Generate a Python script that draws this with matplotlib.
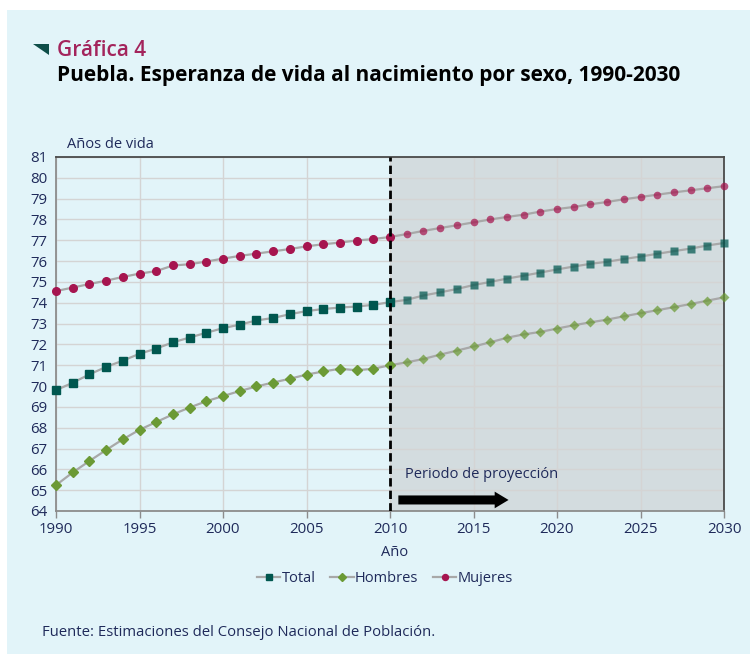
import numpy as np
import matplotlib
matplotlib.use("Agg")
import matplotlib.pyplot as plt
from matplotlib.patches import Rectangle, Polygon

years = list(range(1990, 2031))
total = [69.80, 70.16, 70.56, 70.92, 71.22, 71.55, 71.80, 72.10, 72.33, 72.56,
         72.78, 72.95, 73.15, 73.27, 73.45, 73.60, 73.70, 73.77, 73.82, 73.90,
         74.03, 74.14, 74.35, 74.50, 74.66, 74.85, 75.00, 75.16, 75.30, 75.45,
         75.60, 75.74, 75.87, 75.97, 76.10, 76.22, 76.35, 76.48, 76.60, 76.75, 76.87]
hombres = [65.24, 65.85, 66.40, 66.93, 67.44, 67.90, 68.27, 68.64, 68.97, 69.27,
           69.52, 69.76, 69.98, 70.17, 70.35, 70.55, 70.70, 70.83, 70.76, 70.83,
           71.00, 71.14, 71.30, 71.51, 71.70, 71.90, 72.10, 72.32, 72.48, 72.60,
           72.76, 72.92, 73.06, 73.19, 73.35, 73.50, 73.64, 73.79, 73.94, 74.10, 74.26]
mujeres = [74.56, 74.73, 74.90, 75.06, 75.24, 75.40, 75.52, 75.79, 75.85, 75.98,
           76.12, 76.25, 76.36, 76.47, 76.58, 76.71, 76.81, 76.89, 76.99, 77.06,
           77.16, 77.30, 77.45, 77.59, 77.72, 77.86, 78.00, 78.12, 78.23, 78.38,
           78.50, 78.60, 78.73, 78.84, 78.97, 79.08, 79.19, 79.30, 79.40, 79.50, 79.60]
series_names = ["Total", "Hombres", "Mujeres"]
y_ticks = list(range(64, 82))
x_ticks = list(range(1990, 2031, 5))
proj_start = 2010

plt.rcParams['font.family'] = ['Open Sans', 'DejaVu Sans']

bg = "#E2F4F9"
fig = plt.figure(figsize=(7.5, 6.54), dpi=100, facecolor="white")
# cyan panel
fig.patches.append(Rectangle((7/750, 0), 1 - 7/750, 1 - 10/654, transform=fig.transFigure,
                             facecolor=bg, edgecolor="none", zorder=-5))

L, R, T, B = 56/750, 724/750, 1 - 157/654, 1 - 511/654
ax = fig.add_axes([L, B, R - L, T - B], zorder=2)
ax.set_facecolor(bg)
ax.set_xlim(1990, 2030)
ax.set_ylim(64, 81)

# shaded projection
ax.axvspan(proj_start, 2030, facecolor="#D3DCDF", edgecolor="none", zorder=0)

ax.set_yticks(y_ticks)
ax.set_xticks(x_ticks)
ax.grid(True, color="#D4D4D4", linewidth=1.0, zorder=1)
ax.set_axisbelow(True)

colors = {"Total": "#00574F", "Hombres": "#6B9A35", "Mujeres": "#A6154F"}
markers = {"Total": "s", "Hombres": "D", "Mujeres": "o"}
msizes = {"Total": 5.8, "Hombres": 5.3, "Mujeres": 5.5}
data = {"Total": total, "Hombres": hombres, "Mujeres": mujeres}

yrs = np.array(years)
hist = yrs <= proj_start
proj = yrs > proj_start
for name in series_names:
    vals = np.array(data[name])
    ax.plot(yrs, vals, color="#A8A8A8", lw=1.6, zorder=2, clip_on=False)
    ax.plot(yrs[hist], vals[hist], ls="none", marker=markers[name], ms=msizes[name],
            color=colors[name], mec=colors[name], zorder=3, clip_on=False)
    ax.plot(yrs[proj], vals[proj], ls="none", marker=markers[name], ms=msizes[name],
            color=colors[name], mec="none", alpha=0.72, zorder=3, clip_on=False)

# legend proxies
handles = []
for name in series_names:
    h, = ax.plot([], [], color="#A8A8A8", lw=1.6, marker=markers[name],
                 ms=msizes[name] - 1.2, mfc=colors[name], mec=colors[name])
    handles.append(h)
fig.legend(handles, series_names, loc="center", bbox_to_anchor=(385/750, 1 - 579/654),
           ncol=3, frameon=False, fontsize=10.5, handlelength=1.6, handletextpad=0.1,
           columnspacing=1.0, labelcolor="#1F2A5A")

# dashed line
ax.axvline(proj_start, color="black", lw=2.0, ls=(0, (3, 1.5)), zorder=5)

# spines
for s in ["top", "right"]:
    ax.spines[s].set_color("#4A4A4A")
    ax.spines[s].set_linewidth(1.3)
for s in ["left", "bottom"]:
    ax.spines[s].set_color("#8C8C8C")
    ax.spines[s].set_linewidth(1.3)

ax.tick_params(axis="y", length=0, pad=6, labelsize=10.8, labelcolor="#1F2A5A")
ax.tick_params(axis="x", length=5, width=1, color="#8C8C8C", direction="out",
               pad=3, labelsize=10.8, labelcolor="#1F2A5A")

# projection arrow & text
ax.annotate("", xy=(2017.1, 64.53), xytext=(2010.5, 64.53),
            arrowprops=dict(arrowstyle="simple,head_length=1.0,head_width=1.2,tail_width=0.65",
                            mutation_scale=10, color="black", lw=0, shrinkA=0, shrinkB=0),
            zorder=6)
ax.text(2010.9, 65.4, "Periodo de proyección", fontsize=10.5, color="#1F2A5A",
        ha="left", va="bottom", zorder=6)

# texts
fig.text(67/750, 1 - 144/654, "Años de vida", fontsize=10.5, color="#1F2A5A",
         ha="left", va="center")
fig.text(395/750, 1 - 553/654, "Año", fontsize=10.5, color="#1F2A5A",
         ha="center", va="center")
fig.text(42/750, 1 - 632/654, "Fuente: Estimaciones del Consejo Nacional de Población.",
         fontsize=10.7, color="#1F2A5A", ha="left", va="center")

# title marker triangle
fig.patches.append(Polygon([(33/750, 1 - 44/654), (49/750, 1 - 44/654), (49/750, 1 - 55/654)],
                           closed=True, transform=fig.transFigure, facecolor="#0E4E49",
                           edgecolor="none"))
fig.text(57/750, 1 - 51/654, "Gráfica 4", fontsize=15, color="#A3245C",
         fontweight="semibold", ha="left", va="center")
fig.text(57/750, 1 - 76/654, "Puebla. Esperanza de vida al nacimiento por sexo, 1990-2030",
         fontsize=15, color="black", fontweight="bold", ha="left", va="center")

fig.savefig("out.png", dpi=100, facecolor=fig.get_facecolor())
